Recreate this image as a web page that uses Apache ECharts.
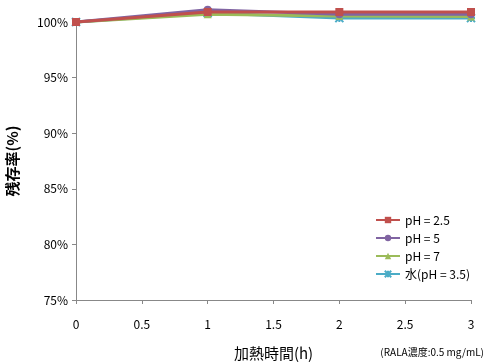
<!DOCTYPE html>
<html><head><meta charset="utf-8">
<script src="https://cdn.jsdelivr.net/npm/echarts@6/dist/echarts.min.js"></script>
<style>html,body{margin:0;padding:0;background:#fff}#c{width:488px;height:364px}</style>
</head><body><div id="c"></div>
<script>
const xValues = [0, 1, 2, 3];
const seriesNames = ['pH = 2.5', 'pH = 5', 'pH = 7', '水(pH = 3.5)'];
const ph25 = [100, 100.9, 100.9, 100.9];
const ph5 = [100, 101.1, 100.7, 100.7];
const ph7 = [100, 100.7, 100.55, 100.5];
const water = [100, 100.8, 100.35, 100.35];
const colors = ['#c0504d', '#8064a2', '#9bbb59', '#4bacc6'];
const symbols = ['rect', 'circle', 'triangle', 'path://M0,0L10,10M10,0L0,10M5,0L5,10M0,5L10,5'];
const font = '"Noto Sans CJK JP", sans-serif';
const data = [ph25, ph5, ph7, water];
const chart = echarts.init(document.getElementById('c'));
chart.setOption({
  animation: false,
  grid: {left: 76, right: 17, top: 22, bottom: 64, containLabel: false, outerBoundsMode: 'none'},
  legend: {
    orient: 'vertical', left: 370, top: 209, itemWidth: 24, itemHeight: 8, itemGap: 6,
    textStyle: {fontFamily: font, fontSize: 12, color: '#000'},
    data: seriesNames
  },
  xAxis: {
    type: 'value', min: 0, max: 3, interval: 0.5,
    name: '加熱時間(h)', nameLocation: 'middle', nameGap: 46,
    nameTextStyle: {fontFamily: font, fontSize: 15, color: '#000'},
    axisLine: {lineStyle: {color: '#888'}},
    axisTick: {show: true, length: 4, lineStyle: {color: '#888'}},
    axisLabel: {fontFamily: font, fontSize: 12, color: '#000', margin: 18},
    splitLine: {show: false}
  },
  yAxis: {
    type: 'value', min: 75, max: 100, interval: 5,
    name: '残存率(%)', nameLocation: 'middle', nameGap: 56, nameRotate: 90,
    nameTextStyle: {fontFamily: font, fontSize: 15, color: '#000', fontWeight: 'bold'},
    axisLine: {show: true, lineStyle: {color: '#888'}},
    axisTick: {show: true, length: 4, lineStyle: {color: '#888'}},
    axisLabel: {fontFamily: font, fontSize: 12, color: '#000', margin: 8, formatter: v => v + '%'},
    splitLine: {show: false}
  },
  graphic: [{
    type: 'text', right: 4, top: 347,
    style: {text: '(RALA濃度:0.5 mg/mL)', fontFamily: font, fontSize: 10, fill: '#000'}
  }],
  series: seriesNames.map((n, i) => ({
    name: n, type: 'line', clip: false,
    data: xValues.map((x, j) => [x, data[i][j]]),
    symbol: symbols[i], symbolSize: 8,
    lineStyle: {width: 3, color: colors[i]},
    itemStyle: {color: colors[i], borderColor: colors[i], borderWidth: i === 3 ? 2 : 0},
    z: 10 - i
  }))
});
</script></body></html>
